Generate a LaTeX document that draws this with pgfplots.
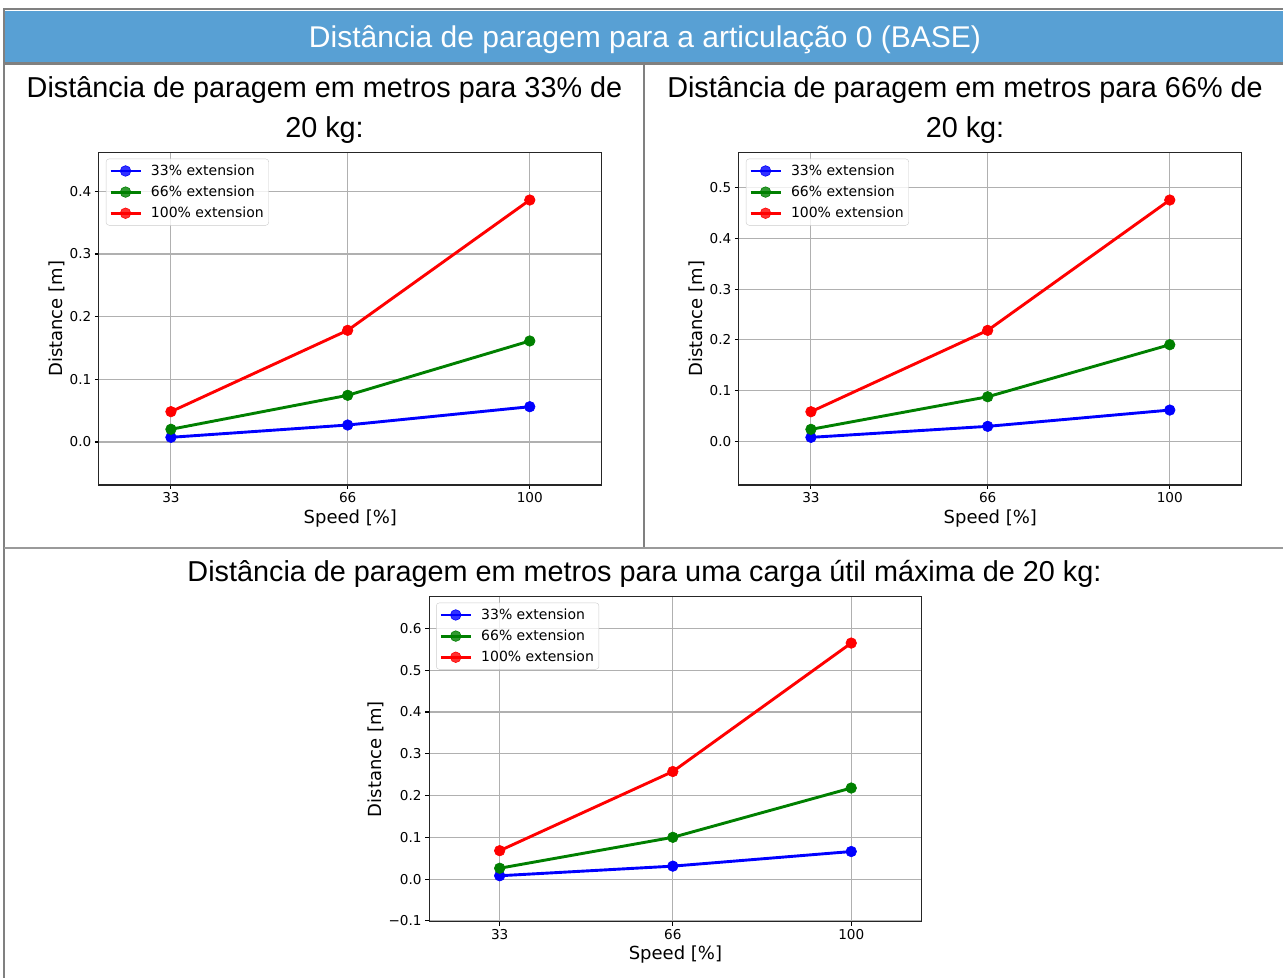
\documentclass[border=0pt]{standalone}
\usepackage{pgfplots}
\pgfplotsset{compat=1.18}
\usepackage{fontspec}
\setmainfont{DejaVu Sans}
\newfontfamily\titlefont{Liberation Sans}

\definecolor{barblue}{RGB}{88,160,212}
\definecolor{framegray}{RGB}{128,128,128}
\definecolor{gridc}{RGB}{176,176,176}
\definecolor{mplblue}{RGB}{0,0,255}
\definecolor{mplgreen}{RGB}{0,128,0}
\definecolor{mplred}{RGB}{255,0,0}

\pgfplotsset{
  stopplot/.style={
    scale only axis,
    xmin=19.55, xmax=113.45,
    xtick={33,66,100},
    grid=major,
    major grid style={gridc, line width=1.1pt},
    axis line style={black!85, line width=1.1pt},
    tick align=outside,
    tick pos=left,
    major tick length=4pt,
    tick style={black, line width=1.1pt},
    ticklabel style={font=\fontsize{13.6}{16}\selectfont},
    /pgf/number format/assume math mode=true,
    label style={font=\fontsize{18}{21}\selectfont},
    xlabel={Speed [\%]},
    ylabel={Distance [m]},
    legend cell align=left,
    legend style={at={(0,1)}, anchor=north west, xshift=7pt, yshift=-6pt,
      draw=gray!40, rounded corners=3pt, fill=white, fill opacity=0.8,
      text opacity=1, font=\fontsize{14}{16}\selectfont,
      row sep=5pt, inner xsep=3pt, inner ysep=4pt},
    legend image code/.code={
      \draw[mark repeat=2,mark phase=2] plot coordinates {(0pt,0pt)(15pt,0pt)(30pt,0pt)};
      \path (37pt,0pt);},
    every axis plot/.append style={line width=2.9pt, mark=*, mark size=5.3pt,
      mark options={line width=0.6pt}},
  }
}

\begin{document}
\begin{tikzpicture}[x=1pt,y=1pt]
\useasboundingbox (0,0) rectangle (1283,978);

% header bar and frame
\fill[barblue] (5,916) rectangle (1283,967);
\draw[framegray, line width=2pt] (3,968.5) -- (1283,968.5);
\draw[framegray, line width=3pt] (3,914.5) -- (1283,914.5);
\draw[framegray, line width=2.5pt] (4,969.5) -- (4,0);
\draw[framegray, line width=2pt] (644,913) -- (644,430);
\draw[framegray!80, line width=2pt] (4,430) -- (1283,430);

\node[font=\titlefont\fontsize{30}{36}\selectfont, text=white, anchor=base]
  at (645,930) {Distância de paragem para a articulação 0 (BASE)};

\node[font=\titlefont\fontsize{28.8}{34}\selectfont, anchor=base] at (324.5,880)
  {Distância de paragem em metros para 33\% de};
\node[font=\titlefont\fontsize{28.8}{34}\selectfont, anchor=base] at (324.5,840) {20 kg:};
\node[font=\titlefont\fontsize{28.8}{34}\selectfont, anchor=base] at (965,880)
  {Distância de paragem em metros para 66\% de};
\node[font=\titlefont\fontsize{28.8}{34}\selectfont, anchor=base] at (965,840) {20 kg:};
\node[font=\titlefont\fontsize{28.8}{34}\selectfont, anchor=base] at (644.5,396)
  {Distância de paragem em metros para uma carga útil máxima de 20 kg:};

% 33% of 20 kg
\begin{axis}[stopplot, at={(98.9pt,493pt)}, anchor=south west,
  width=502.9pt, height=332.3pt,
  ymin=-0.0686, ymax=0.4616,
  ytick={0,0.1,0.2,0.3,0.4},
  yticklabels={0.0,0.1,0.2,0.3,0.4},
  ylabel style={at={(axis description cs:-0.0845,0.5)}, anchor=center},
  xlabel style={at={(axis description cs:0.5,-0.1)}, anchor=center}]
\addplot[mplblue] coordinates {(33,0.0075) (66,0.0271) (100,0.0563)};
\addplot[mplgreen] coordinates {(33,0.0203) (66,0.0745) (100,0.1612)};
\addplot[mplred] coordinates {(33,0.0484) (66,0.1782) (100,0.3861)};
\legend{33\% extension, 66\% extension, 100\% extension}
\end{axis}

% 66% of 20 kg
\begin{axis}[stopplot, at={(738.9pt,493pt)}, anchor=south west,
  width=502.9pt, height=332.3pt,
  ymin=-0.086, ymax=0.569,
  ytick={0,0.1,0.2,0.3,0.4,0.5},
  yticklabels={0.0,0.1,0.2,0.3,0.4,0.5},
  ylabel style={at={(axis description cs:-0.0845,0.5)}, anchor=center},
  xlabel style={at={(axis description cs:0.5,-0.1)}, anchor=center}]
\addplot[mplblue] coordinates {(33,0.0079) (66,0.0296) (100,0.0617)};
\addplot[mplgreen] coordinates {(33,0.0237) (66,0.0879) (100,0.1905)};
\addplot[mplred] coordinates {(33,0.0584) (66,0.2188) (100,0.4757)};
\legend{33\% extension, 66\% extension, 100\% extension}
\end{axis}

% maximum payload 20 kg
\begin{axis}[stopplot, at={(429.1pt,56.3pt)}, anchor=south west,
  width=492.7pt, height=325pt,
  ymin=-0.102, ymax=0.676,
  ytick={-0.1,0,0.1,0.2,0.3,0.4,0.5,0.6},
  yticklabels={−0.1,0.0,0.1,0.2,0.3,0.4,0.5,0.6},
  ylabel style={at={(axis description cs:-0.109,0.5)}, anchor=center},
  xlabel style={at={(axis description cs:0.5,-0.1)}, anchor=center}]
\addplot[mplblue] coordinates {(33,0.008) (66,0.031) (100,0.066)};
\addplot[mplgreen] coordinates {(33,0.026) (66,0.100) (100,0.218)};
\addplot[mplred] coordinates {(33,0.068) (66,0.2575) (100,0.565)};
\legend{33\% extension, 66\% extension, 100\% extension}
\end{axis}
\end{tikzpicture}
\end{document}
